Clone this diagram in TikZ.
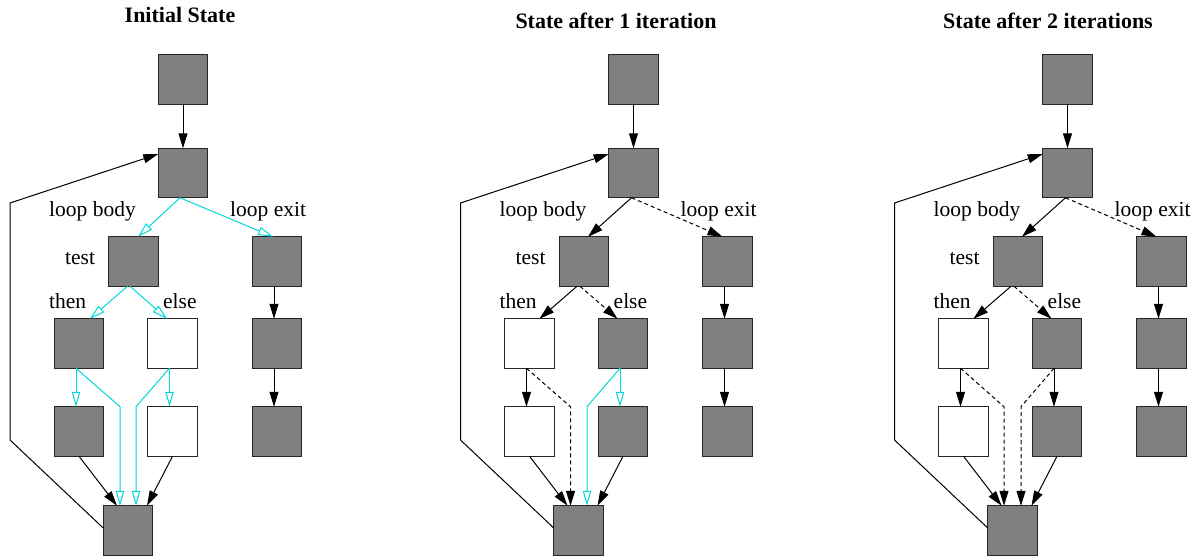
\documentclass[tikz,border=0pt]{standalone}
\usepackage{fontspec}
\setmainfont{Liberation Serif}
\usetikzlibrary{arrows.meta,calc}
\definecolor{boxgray}{RGB}{128,128,128}
\definecolor{cyanline}{RGB}{0,215,215}
\tikzset{
  gbox/.style={draw=black!85,line width=1.1pt,fill=boxgray,minimum size=49.5pt,inner sep=0pt,outer sep=0pt},
  wbox/.style={gbox,fill=white},
  blk/.style={draw=black,line width=1pt,-{Triangle[length=15pt,width=9pt]}},
  blkd/.style={blk,dash pattern=on 4pt off 3pt},
  cyn/.style={draw=cyanline,line width=1pt,-{Triangle[open,length=15pt,width=8.5pt]}},
  lbl/.style={anchor=base west,inner sep=0pt,font=\fontsize{21.5}{24}\selectfont},
  ttl/.style={anchor=base,inner sep=0pt,font=\fontsize{22}{26}\selectfont\bfseries},
}
% #1 prefix, #2 style of then column, #3 style of else column
\newcommand{\panelnodes}[3]{%
  \node[gbox] (#1top) at (183,79.5) {};
  \node[gbox] (#1head) at (183,173) {};
  \node[gbox] (#1test) at (133.5,261.5) {};
  \node[gbox] (#1exit) at (277,261.5) {};
  \node[#2] (#1then) at (79,343.5) {};
  \node[#3] (#1else) at (172.5,343.5) {};
  \node[#2] (#1then2) at (79,431.5) {};
  \node[#3] (#1else2) at (172.5,431.5) {};
  \node[gbox] (#1exit2) at (277,343.5) {};
  \node[gbox] (#1exit3) at (277,431.5) {};
  \node[gbox] (#1bot) at (128,530.5) {};
  \node[lbl] (#1lbody) at (49,216) {loop body};
  \node[lbl] (#1lexit) at (230,216) {loop exit};
  \node[lbl] (#1ltest) at (65,264) {test};
  \node[lbl] (#1lthen) at (49,308) {then};
  \node[lbl] (#1lelse) at (163,308) {else};
  \coordinate (#1c1) at (10,440);
  \coordinate (#1c2) at (10,203);
  \draw[blk] (#1top) -- (#1head);
  \draw[blk] ([xshift=-3pt]#1exit.south) -- ([xshift=-3pt]#1exit2.north);
  \draw[blk] ([xshift=-3pt]#1exit2.south) -- ([xshift=-3pt]#1exit3.north);
  \draw[blk] ([yshift=2.5pt]#1bot.west) -- (#1c1) -- (#1c2) -- ([yshift=19pt]#1head.west);
  \draw[blk] (#1then2.south) -- ([xshift=-11pt]#1bot.north);
  \draw[blk] (#1else2.south) -- ([xshift=19pt]#1bot.north);
}
\begin{document}
\begin{tikzpicture}[x=1pt,y=-1pt]
\useasboundingbox (0,0) rectangle (1200,555);
\node[ttl] (t1) at (180,22) {Initial State};
\node[ttl] (t2) at (616,28) {State after 1 iteration};
\node[ttl] (t3) at (1048,28) {State after 2 iterations};

% Panel 1
\begin{scope}
\panelnodes{a-}{gbox}{wbox}
\draw[cyn] ([xshift=-3pt]a-head.south) -- ([xshift=4.5pt]a-test.north);
\draw[cyn] ([xshift=-3pt]a-head.south) -- ([xshift=-4pt]a-exit.north);
\draw[cyn] ([xshift=-6pt]a-test.south) -- ([xshift=11pt]a-then.north);
\draw[cyn] ([xshift=-3.5pt]a-test.south) -- ([xshift=-5.5pt]a-else.north);
\draw[cyn] ([xshift=-3pt]a-then.south) -- ([xshift=-3pt]a-then2.north);
\draw[cyn] ([xshift=-3pt]a-then.south) -- ([xshift=-8pt]a-bot.north |- a-then2.north) -- ([xshift=-8pt]a-bot.north);
\draw[cyn] ([xshift=-3pt]a-else.south) -- ([xshift=-3pt]a-else2.north);
\draw[cyn] ([xshift=-3pt]a-else.south) -- ([xshift=8pt]a-bot.north |- a-else2.north) -- ([xshift=8pt]a-bot.north);
\end{scope}

% Panel 2
\begin{scope}[xshift=450.5pt]
\panelnodes{b-}{wbox}{gbox}
\draw[blk] ([xshift=-2pt]b-head.south) -- ([xshift=4pt]b-test.north);
\draw[blkd] ([xshift=-2pt]b-head.south) -- ([xshift=-5pt]b-exit.north);
\draw[blk] ([xshift=-7pt]b-test.south) -- ([xshift=10pt]b-then.north);
\draw[blkd] ([xshift=-4pt]b-test.south) -- ([xshift=-5.5pt]b-else.north);
\draw[blk] ([xshift=-3pt]b-then.south) -- ([xshift=-3pt]b-then2.north);
\draw[blkd] ([xshift=-3pt]b-then.south) -- ([xshift=-8pt]b-bot.north |- b-then2.north) -- ([xshift=-8pt]b-bot.north);
\draw[cyn] ([xshift=-3pt]b-else.south) -- ([xshift=-3pt]b-else2.north);
\draw[cyn] ([xshift=-3pt]b-else.south) -- ([xshift=8.5pt]b-bot.north |- b-else2.north) -- ([xshift=8.5pt]b-bot.north);
\end{scope}

% Panel 3
\begin{scope}[xshift=884.5pt]
\panelnodes{c-}{wbox}{gbox}
\draw[blk] ([xshift=-2pt]c-head.south) -- ([xshift=4pt]c-test.north);
\draw[blkd] ([xshift=-2pt]c-head.south) -- ([xshift=-5pt]c-exit.north);
\draw[blk] ([xshift=-7pt]c-test.south) -- ([xshift=10pt]c-then.north);
\draw[blkd] ([xshift=-4pt]c-test.south) -- ([xshift=-5.5pt]c-else.north);
\draw[blk] ([xshift=-3pt]c-then.south) -- ([xshift=-3pt]c-then2.north);
\draw[blkd] ([xshift=-3pt]c-then.south) -- ([xshift=-8.5pt]c-bot.north |- c-then2.north) -- ([xshift=-8.5pt]c-bot.north);
\draw[blk] ([xshift=-3pt]c-else.south) -- ([xshift=-3pt]c-else2.north);
\draw[blkd] ([xshift=-3pt]c-else.south) -- ([xshift=8.5pt]c-bot.north |- c-else2.north) -- ([xshift=8.5pt]c-bot.north);
\end{scope}
\end{tikzpicture}
\end{document}
